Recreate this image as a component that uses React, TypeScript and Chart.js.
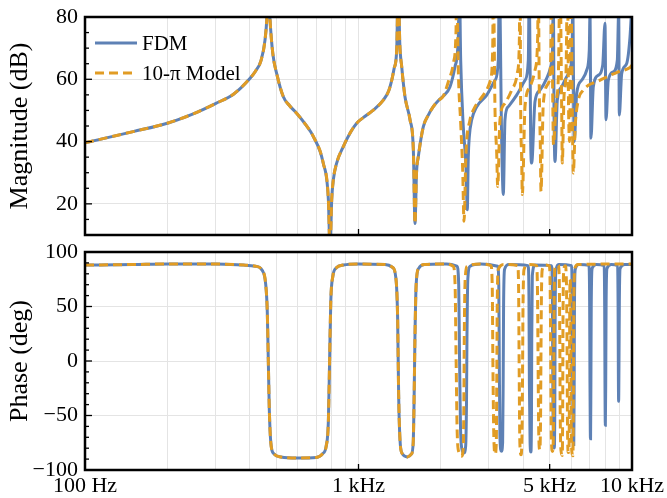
import React, { useEffect, useRef } from 'react';
import { Chart, registerables } from 'chart.js';

Chart.register(...registerables);

const FONT = '"Liberation Serif", "Times New Roman", serif';
const BLUE = '#5E81B5';
const ORANGE = '#E19C24';
const GRID = '#e4e4e4';

const seriesNames = ['FDM', '10-\u03c0 Model'];

// Shared low-frequency magnitude (both models coincide), Hz / dB
const lowFreq = [100, 150, 200, 250, 300, 350, 400, 420, 440, 455, 463, 468, 475, 486, 502, 531, 560, 594, 640, 684, 743, 776, 787, 798, 809, 832, 880, 935, 985, 1060, 1133, 1232, 1290, 1323, 1350, 1379, 1398, 1415, 1439, 1479, 1543, 1587, 1609, 1630, 1655, 1726, 1800, 1877, 1960, 2042];
const lowMag = [39.6, 43.2, 45.9, 49.0, 52.2, 55.3, 60.2, 62.6, 66.0, 72.5, 80.5, 92, 79, 68.3, 61.9, 54.4, 51.5, 49.1, 45.5, 41.6, 33.1, 21.3, 5, 21.3, 27.7, 33.1, 38.4, 43.0, 45.9, 48.2, 50.1, 53.3, 56.3, 59.7, 63.5, 69.3, 92, 72, 64, 54.4, 47, 37.3, 13.7, 30, 35.2, 44.8, 48.5, 51.2, 53.2, 54.6];

// FDM magnitude above 2 kHz
const fdmFreq = [2161, 2253, 2317, 2337, 2364, 2416, 2472, 2499, 2520, 2542, 2594, 2705, 2942, 3156, 3245, 3272, 3339, 3384, 3432, 3529, 3787, 4063, 4177, 4212, 4262, 4297, 4418, 4609, 4876, 5043, 5129, 5155, 5186, 5230, 5332, 5533, 5770, 5968, 6050, 6070, 6121, 6152, 6278, 6546, 6828, 6979, 7021, 7079, 7220, 7532, 7814, 7966, 8035, 8192, 8545, 8837, 8942, 8987, 9171, 9564, 9833, 10000];
const fdmMag = [57.6, 64, 73.6, 92, 66.1, 44.8, 32, 18.1, 35, 41.6, 47, 51.2, 54.9, 59.7, 66.1, 92, 39.5, 23, 47, 51.2, 54.9, 59.7, 66.1, 92, 39.5, 33.1, 52.8, 56.5, 60.3, 64, 71.5, 92, 50.1, 33.6, 53.3, 57.6, 60.8, 64, 73.6, 92, 50.1, 40, 55.5, 59.7, 62.9, 69.3, 81, 41.1, 57.6, 61.3, 64.5, 78, 47, 59.7, 62.4, 66.1, 82, 48.5, 61.9, 65.1, 73.6, 85];

// 10-pi model magnitude above 2 kHz
const piFreq = [2130, 2222, 2273, 2286, 2317, 2364, 2404, 2431, 2472, 2557, 2629, 2860, 3026, 3095, 3111, 3156, 3201, 3228, 3291, 3432, 3632, 3807, 3872, 3895, 3918, 3951, 3971, 4063, 4236, 4418, 4520, 4543, 4581, 4620, 4648, 4739, 4943, 5043, 5085, 5129, 5164, 5275, 5378, 5455, 5533, 5561, 5641, 5737, 5810, 5860, 5910, 5945, 5975, 6050, 6102, 6200, 6363, 6638, 6926, 7430, 8090, 8910, 9833, 10000];
const piMag = [59.2, 65.1, 75.7, 92, 62.9, 45.9, 30.9, 14.4, 36.3, 47, 50.1, 54.9, 59.2, 69.3, 92, 50.1, 36.3, 25.6, 47, 52.3, 56.5, 61.9, 71.5, 92, 50.1, 34.1, 23, 51.2, 57.6, 62.9, 73.6, 92, 56.5, 39.5, 24, 52.3, 58.7, 66.1, 92, 55.5, 39, 52.3, 60.8, 92, 50.1, 33.1, 54.4, 61.9, 92, 52, 40, 62, 92, 50, 29.9, 45, 53.3, 56.5, 58.1, 59.2, 60.8, 62.4, 63.8, 64.5];

// Shared low-frequency phase, Hz / deg
const lowPhaseFreq = [100, 150, 200, 300, 380, 420, 445, 458, 464, 468, 472, 478, 490, 520, 600, 700, 740, 762, 776, 784, 792, 806, 830, 880, 1000, 1250, 1330, 1370, 1390, 1402, 1418, 1445, 1510, 1560, 1585, 1598, 1608, 1625, 1660, 1750, 2042];
const lowPhase = [88, 88.5, 89, 89, 88, 87, 83, 70, 45, 0, -45, -75, -85, -88, -89, -88.5, -85, -78, -55, 0, 55, 78, 85.5, 88, 89, 88.5, 86, 76, 40, -30, -72, -85, -88, -85.5, -75, -30, 20, 70, 85, 88.5, 89];

// FDM phase above 2 kHz
const fdmPhaseFreq = [2100, 2290, 2325, 2342, 2360, 2385, 2430, 2465, 2482, 2492, 2510, 2560, 2800, 3230, 3258, 3272, 3290, 3330, 3365, 3380, 3392, 3420, 3550, 4170, 4200, 4215, 4240, 4270, 4290, 4300, 4320, 4420, 5080, 5115, 5140, 5170, 5200, 5222, 5235, 5265, 5400, 6010, 6045, 6070, 6100, 6125, 6145, 6160, 6200, 6400, 6960, 7000, 7020, 7040, 7055, 7075, 7095, 7150, 7400, 7910, 7945, 7965, 7990, 8015, 8040, 8100, 8400, 8860, 8895, 8915, 8935, 8960, 8990, 9050, 9400, 10000];
const fdmPhase = [89, 87, 70, 0, -60, -80, -84.4, -78, -40, 20, 75, 87, 89, 87, 70, 0, -70, -82.8, -75, -20, 50, 84, 88.5, 87.5, 60, -20, -75, -83.6, -50, 20, 78, 88, 87.5, 60, -40, -75, -79.8, -40, 40, 82, 88.5, 87.5, 60, -20, -70, -76.6, -30, 50, 84, 88.5, 87.5, 55, -20, -65, -71.3, -20, 50, 85, 88.5, 87.5, 50, -20, -59, -20, 50, 85, 88.5, 87.5, 50, -10, -37, -5, 55, 85, 88.5, 88.5];

// 10-pi model phase above 2 kHz
const piPhaseFreq = [2100, 2220, 2255, 2275, 2295, 2330, 2380, 2415, 2428, 2436, 2455, 2500, 2800, 3050, 3085, 3100, 3125, 3160, 3190, 3203, 3215, 3245, 3400, 3820, 3850, 3866, 3890, 3930, 3965, 3980, 3995, 4030, 4200, 4480, 4515, 4535, 4560, 4600, 4630, 4645, 4665, 4700, 4850, 4990, 5025, 5045, 5070, 5120, 5165, 5180, 5195, 5225, 5380, 5420, 5445, 5465, 5500, 5560, 5580, 5592, 5620, 5700, 5760, 5790, 5810, 5850, 5885, 5905, 5918, 5935, 5955, 5975, 5995, 6040, 6080, 6100, 6115, 6135, 6180, 6350, 10000];
const piPhase = [89, 87, 70, 0, -65, -84, -87.4, -80, -40, 20, 75, 87, 89, 87.5, 65, 0, -70, -85.5, -75, -20, 50, 84, 88.5, 87.5, 65, 0, -75, -86, -60, -10, 50, 84, 88.5, 87.5, 60, 0, -65, -81.4, -55, 0, 60, 84, 88, 87, 60, 0, -70, -83, -60, 0, 60, 85, 88, 75, 20, -50, -82, -86.7, -40, 30, 80, 87.5, 70, 10, -60, -84, -80, -30, 40, 75, 70, 20, -60, -85, -87, -50, 10, 65, 85, 88.5, 89];

// Axes
const xGridValues = [100, 200, 300, 400, 500, 600, 700, 800, 900, 1000, 2000, 3000, 4000, 5000, 6000, 7000, 8000, 9000, 10000];
const xTickLabels: Record<number, string> = { 100: '100 Hz', 1000: '1 kHz', 5000: '5 kHz', 10000: '10 kHz' };
const xMajorMarks = [1000, 5000];
const magTicks = [20, 40, 60, 80];
const magMinor = [15, 25, 30, 35, 45, 50, 55, 65, 70, 75];
const phaseTicks = [-100, -50, 0, 50, 100];
const phaseMinor = [-90, -80, -70, -60, -40, -30, -20, -10, 10, 20, 30, 40, 60, 70, 80, 90];

const toPoints = (xs: number[], ys: number[]) => xs.map((x, i) => ({ x, y: ys[i] }));
const fmtNum = (v: number) => (v < 0 ? '\u2212' + Math.abs(v) : String(v));

const framePlugin = {
  id: 'frameTicks',
  afterDatasetsDraw(chart: any, _args: any, opts: any) {
    const { ctx, chartArea: a } = chart;
    const ys = chart.scales.y;
    const xs = chart.scales.x;
    ctx.save();
    ctx.setLineDash([]);
    ctx.strokeStyle = '#000';
    ctx.lineWidth = 1.3;
    const hTick = (v: number, len: number) => {
      const p = ys.getPixelForValue(v);
      ctx.beginPath();
      ctx.moveTo(a.left, p);
      ctx.lineTo(a.left + len, p);
      ctx.stroke();
    };
    (opts.minorY || []).forEach((v: number) => hTick(v, 4));
    (opts.majorY || []).forEach((v: number) => hTick(v, 7));
    (opts.majorX || []).forEach((v: number) => {
      const p = xs.getPixelForValue(v);
      ctx.beginPath();
      ctx.moveTo(p, a.bottom);
      ctx.lineTo(p, a.bottom - 6);
      ctx.stroke();
    });
    ctx.lineWidth = 2.5;
    ctx.strokeRect(a.left, a.top, a.right - a.left, a.bottom - a.top);
    if (opts.legend) {
      const order = [...chart.data.datasets].sort((p: any, q: any) => p.legendIndex - q.legendIndex);
      order.forEach((ds: any, i: number) => {
        const y = a.top + 26 + i * 30;
        ctx.strokeStyle = ds.borderColor;
        ctx.lineWidth = ds.borderWidth;
        ctx.setLineDash(ds.borderDash || []);
        ctx.beginPath();
        ctx.moveTo(a.left + 10, y);
        ctx.lineTo(a.left + 52, y);
        ctx.stroke();
        ctx.setLineDash([]);
        ctx.fillStyle = '#000';
        ctx.font = `21px ${FONT}`;
        ctx.textBaseline = 'middle';
        ctx.textAlign = 'left';
        ctx.fillText(ds.label, a.left + 57, y + 1);
      });
    }
    ctx.restore();
  },
};

const xScale = (showLabels: boolean) => ({
  type: 'logarithmic',
  min: 100,
  max: 10000,
  afterBuildTicks: (s: any) => {
    s.ticks = xGridValues.map((value) => ({ value }));
  },
  afterFit: (s: any) => {
    s.height = showLabels ? 28 : 0;
    s.paddingLeft = 0;
    s.paddingRight = 0;
    s.paddingTop = 0;
    s.paddingBottom = 0;
  },
  ticks: {
    display: showLabels,
    autoSkip: false,
    maxRotation: 0,
    minRotation: 0,
    padding: 3,
    color: '#000',
    font: { family: FONT, size: 22 },
    callback: (v: any) => xTickLabels[v as number] ?? '',
  },
  grid: { color: GRID, lineWidth: 1, drawTicks: false },
  border: { display: false },
});

const yScale = (min: number, max: number, ticks: number[], title: string) => ({
  min,
  max,
  afterBuildTicks: (s: any) => {
    s.ticks = ticks.map((value) => ({ value }));
  },
  afterFit: (s: any) => {
    s.width = 85;
    s.paddingTop = 0;
    s.paddingBottom = 0;
    s.paddingLeft = 0;
    s.paddingRight = 0;
  },
  ticks: {
    color: '#000',
    padding: 7,
    font: { family: FONT, size: 22 },
    callback: (v: any) => fmtNum(Number(v)),
  },
  grid: { color: GRID, lineWidth: 1, drawTicks: false },
  border: { display: false },
  title: {
    display: true,
    text: title,
    color: '#000',
    font: { family: FONT, size: 26 },
    padding: { top: 5, bottom: 0 },
  },
});

const lineStyle = (which: number) =>
  which === 0
    ? { borderColor: BLUE, borderWidth: 3, order: 1, legendIndex: 0 }
    : { borderColor: ORANGE, borderWidth: 3, borderDash: [9, 5], order: 0, legendIndex: 1 };

const makeConfig = (
  blue: { x: number; y: number }[],
  orange: { x: number; y: number }[],
  y: any,
  pad: any,
  showX: boolean,
  legend: boolean,
  minorY: number[],
  majorY: number[]
): any => ({
  type: 'line',
  data: {
    datasets: [
      { label: seriesNames[0], data: blue, ...lineStyle(0), pointRadius: 0, fill: false, cubicInterpolationMode: 'monotone' },
      { label: seriesNames[1], data: orange, ...lineStyle(1), pointRadius: 0, fill: false, cubicInterpolationMode: 'monotone' },
    ],
  },
  options: {
    animation: false,
    responsive: false,
    maintainAspectRatio: false,
    layout: { padding: pad },
    plugins: {
      legend: { display: false },
      tooltip: { enabled: false },
      frameTicks: { legend, minorY, majorY, majorX: xMajorMarks },
    },
    scales: { x: xScale(showX), y },
  },
  plugins: [framePlugin],
});

export default function App() {
  const topRef = useRef<HTMLCanvasElement>(null);
  const botRef = useRef<HTMLCanvasElement>(null);

  useEffect(() => {
    const fdmMagPts = toPoints([...lowFreq, ...fdmFreq], [...lowMag, ...fdmMag]);
    const piMagPts = toPoints([...lowFreq, ...piFreq], [...lowMag, ...piMag]);
    const fdmPhPts = toPoints([...lowPhaseFreq, ...fdmPhaseFreq], [...lowPhase, ...fdmPhase]);
    const piPhPts = toPoints([...lowPhaseFreq, ...piPhaseFreq], [...lowPhase, ...piPhase]);

    const top = new Chart(
      topRef.current as HTMLCanvasElement,
      makeConfig(
        fdmMagPts,
        piMagPts,
        yScale(10, 80, magTicks, 'Magnitude (dB)'),
        { top: 17, right: 35, bottom: 9, left: 0 },
        false,
        true,
        magMinor,
        magTicks
      )
    );
    const bot = new Chart(
      botRef.current as HTMLCanvasElement,
      makeConfig(
        fdmPhPts,
        piPhPts,
        yScale(-100, 100, phaseTicks, 'Phase (deg)'),
        { top: 17, right: 35, bottom: 0, left: 0 },
        true,
        false,
        phaseMinor,
        phaseTicks
      )
    );
    return () => {
      top.destroy();
      bot.destroy();
    };
  }, []);

  return (
    <div style={{ position: 'fixed', left: 0, top: 0, width: 667, height: 498, background: '#fff' }}>
      <canvas ref={topRef} width={667} height={244} style={{ position: 'absolute', left: 0, top: 0 }} />
      <canvas ref={botRef} width={667} height={263} style={{ position: 'absolute', left: 0, top: 235 }} />
    </div>
  );
}
